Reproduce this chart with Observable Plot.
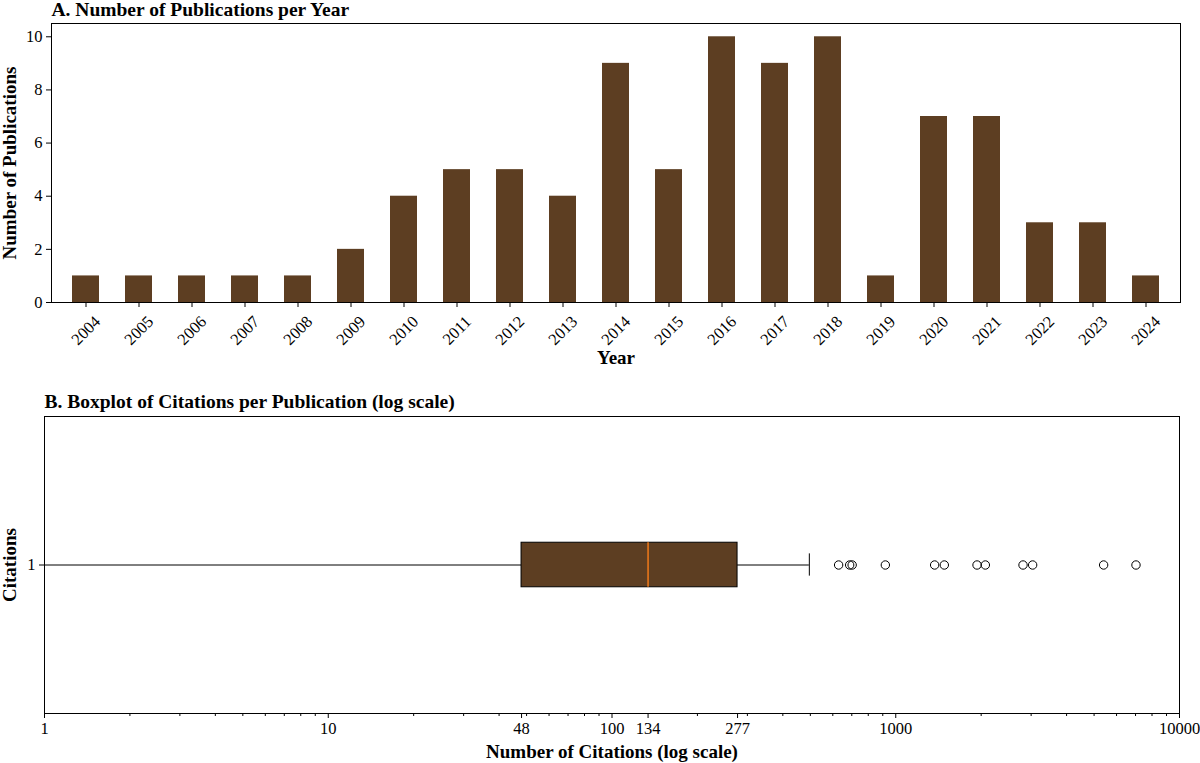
<!DOCTYPE html>
<html><head><meta charset="utf-8">
<script src="https://cdn.jsdelivr.net/npm/d3@7"></script>
<script src="https://cdn.jsdelivr.net/npm/@observablehq/plot@0.6"></script>
<style>
body{margin:0;background:#fff;}
#chart{width:1200px;height:763px;overflow:hidden;}
#chart svg{display:block;}
</style></head><body><div id="chart"></div>
<script>
// Panel A data
const years = [2004,2005,2006,2007,2008,2009,2010,2011,2012,2013,2014,2015,2016,2017,2018,2019,2020,2021,2022,2023,2024];
const publications = [1,1,1,1,1,2,4,5,5,4,9,5,10,9,10,1,7,7,3,3,1];
const pubTicks = [0,2,4,6,8,10];

// Panel B data (boxplot statistics of citations)
const citeQ1 = 48;
const citeMedian = 134;
const citeQ3 = 277;
const citeWhiskerLow = 1;
const citeWhiskerHigh = 496;
const citeOutliers = [629,688,702,919,1371,1483,1934,2069,2809,3037,5403,7025];
const citeTicks = [1,10,48,100,134,277,1000,10000];
const citeMinorTicks = [2,3,4,5,6,7,8,9,20,30,40,50,60,70,80,90,200,300,400,500,600,700,800,900,2000,3000,4000,5000,6000,7000,8000,9000];

const titleA = "A. Number of Publications per Year";
const titleB = "B. Boxplot of Citations per Publication (log scale)";
const xLabelA = "Year", yLabelA = "Number of Publications";
const xLabelB = "Number of Citations (log scale)", yLabelB = "Citations";

const brown = "#5d3e22";
const font = "'Liberation Serif', 'Times New Roman', serif";
const tickFont = 16.5, labelFont = 19, titleFont = 19.5;

const pubData = years.map((y, i) => ({year: y, n: publications[i]}));
const box = [{q1: citeQ1, median: citeMedian, q3: citeQ3, lo: citeWhiskerLow, hi: citeWhiskerHigh}];

const chartA = Plot.plot({
  width: 1200, height: 380,
  marginTop: 23, marginBottom: 78, marginLeft: 51, marginRight: 20,
  style: {fontFamily: font, fontSize: tickFont + "px", color: "#000", background: "#fff"},
  x: {domain: years, paddingInner: 0.5, paddingOuter: 0.25},
  y: {domain: [0, 10.5]},
  marks: [
    Plot.barY(pubData, {x: "year", y: "n", fill: brown}),
    Plot.frame({stroke: "#000"}),
    Plot.axisY({ticks: pubTicks, tickSize: 5, tickPadding: 4, label: null}),
    Plot.axisX({tickSize: 5, tickRotate: -45, textAnchor: "middle", lineAnchor: "middle", tickPadding: 23, tickFormat: d => String(d), label: null}),
    Plot.text([xLabelA], {text: d => d, frameAnchor: "bottom", dy: 55, lineAnchor: "middle", fontWeight: "bold", fontSize: labelFont}),
    Plot.text([yLabelA], {text: d => d, frameAnchor: "left", dx: -42, rotate: -90, textAnchor: "middle", lineAnchor: "middle", fontWeight: "bold", fontSize: labelFont}),
    Plot.text([titleA], {text: d => d, frameAnchor: "top-left", dy: -8, lineAnchor: "bottom", textAnchor: "start", fontWeight: "bold", fontSize: titleFont})
  ]
});

const bh = 0.075; // half box height in y units
const ch = 0.0375; // half cap height
const chartB = Plot.plot({
  width: 1200, height: 383,
  marginTop: 36, marginBottom: 50, marginLeft: 44, marginRight: 21,
  style: {fontFamily: font, fontSize: tickFont + "px", color: "#000", background: "#fff"},
  x: {type: "log", domain: [1, 10000]},
  y: {domain: [0.5, 1.5]},
  marks: [
    Plot.frame({stroke: "#000"}),
    Plot.axisX({ticks: citeMinorTicks, tickSize: 3, tickFormat: () => "", label: null}),
    Plot.axisX({ticks: citeTicks, tickSize: 5, tickFormat: () => "", label: null}),
    Plot.text(citeTicks, {x: d => d, text: d => String(d), frameAnchor: "bottom", dy: 9, lineAnchor: "top"}),
    Plot.axisY({ticks: [1], tickSize: 5, tickPadding: 4, tickFormat: d => String(d), label: null}),
    Plot.ruleY(box, {y: () => 1, x1: "lo", x2: "q1", stroke: "#000"}),
    Plot.ruleY(box, {y: () => 1, x1: "q3", x2: "hi", stroke: "#000"}),
    Plot.ruleX(box, {x: "lo", y1: () => 1 - ch, y2: () => 1 + ch, stroke: "#000"}),
    Plot.ruleX(box, {x: "hi", y1: () => 1 - ch, y2: () => 1 + ch, stroke: "#000"}),
    Plot.rect(box, {x1: "q1", x2: "q3", y1: () => 1 - bh, y2: () => 1 + bh, fill: brown, stroke: "#000"}),
    Plot.ruleX(box, {x: "median", y1: () => 1 - bh, y2: () => 1 + bh, stroke: "#f07a1a", strokeWidth: 1.5}),
    Plot.dot(citeOutliers, {x: d => d, y: () => 1, r: 4.2, stroke: "#000", fill: "none", strokeWidth: 1}),
    Plot.text([xLabelB], {text: d => d, frameAnchor: "bottom", dy: 38, lineAnchor: "middle", fontWeight: "bold", fontSize: labelFont}),
    Plot.text([yLabelB], {text: d => d, frameAnchor: "left", dx: -35, rotate: -90, textAnchor: "middle", lineAnchor: "middle", fontWeight: "bold", fontSize: labelFont}),
    Plot.text([titleB], {text: d => d, frameAnchor: "top-left", dy: -9, lineAnchor: "bottom", textAnchor: "start", fontWeight: "bold", fontSize: titleFont})
  ]
});

const root = document.getElementById("chart");
root.appendChild(chartA);
root.appendChild(chartB);
</script>
</body></html>
